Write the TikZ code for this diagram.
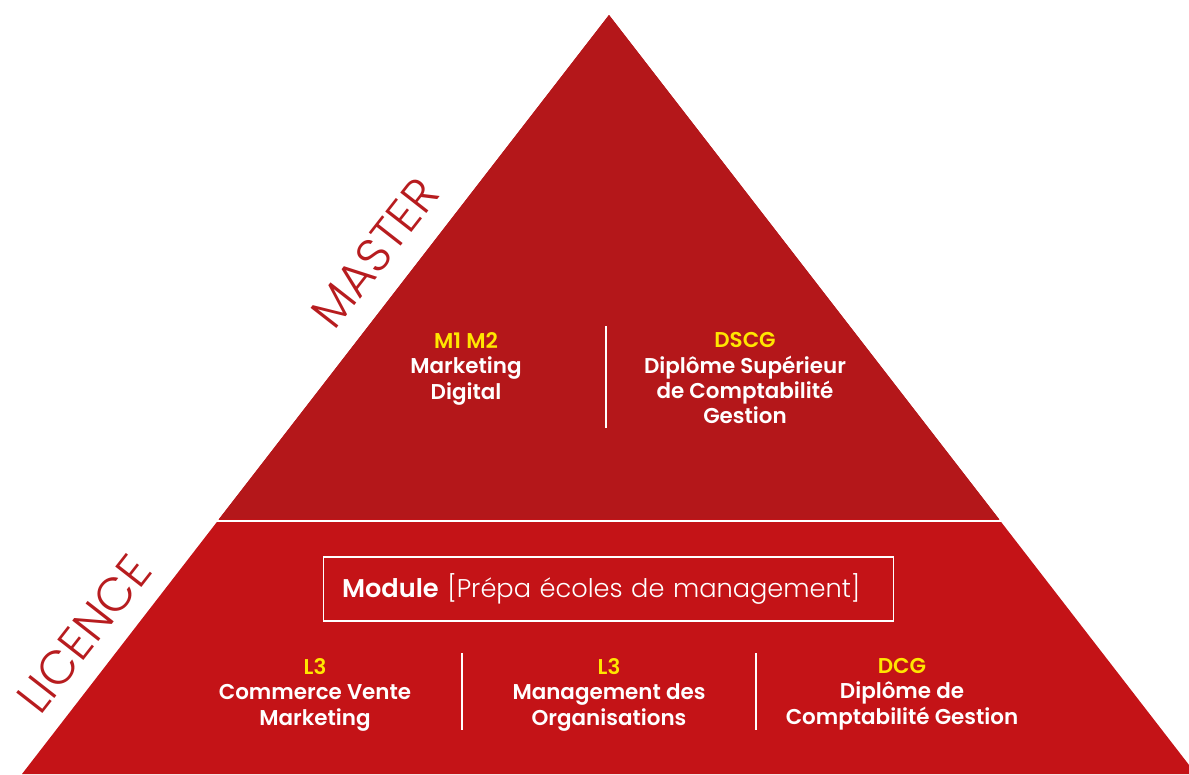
\documentclass[tikz,border=0pt]{standalone}
\usepackage{fontspec}
\setmainfont{Poppins}[BoldFont={Poppins SemiBold}]
\newfontfamily\lightfont{Poppins Light}
\usetikzlibrary{positioning}
\definecolor{masterred}{HTML}{B4171A}
\definecolor{licencered}{HTML}{C41317}
\definecolor{gradeyellow}{HTML}{FFE600}
\definecolor{labelred}{HTML}{B71C1F}
\newcommand{\grade}[1]{\textcolor{gradeyellow}{#1}}

\begin{document}
\begin{tikzpicture}[x=0.02cm, y=-0.02cm,
  every node/.style = {align=center, inner sep=0pt, text=white,
    font=\bfseries\fontsize{12.2}{14.5}\selectfont},
  level/.style = {text=labelred, rotate=52,
    font=\lightfont\fontsize{27}{27}\selectfont},
  course/.style = {anchor=north},
  divider/.style = {draw=white, line width=1.1pt}]
  \clip (0,0) rectangle (1189,774);
  % pyramid
  \fill[licencered] (609,15) -- (1196,774) -- (22,774) -- cycle;
  \fill[masterred] (609,15) -- (999,519) -- (219,519) -- cycle;
  \draw[white, line width=1.4pt] (200,521) -- (1020,521);
  % side labels
  \node[level] (master) at (375,253) {MASTER};
  \node[level] (licence) at (84,634) {LICENCE};
  % master courses
  \node[course] (mkt) at (466,332) {\grade{M1 M2}\\Marketing\\Digital};
  \node[course] (dscg) at (745,332) {\grade{DSCG}\\Diplôme Supérieur\\de Comptabilité\\Gestion};
  \coordinate (sep1a) at (606,326);
  \coordinate (sep1b) at (606,428);
  \draw[divider] (sep1a) -- (sep1b);
  % module
  \node[draw=white, line width=0.6pt, inner xsep=0.38cm, text width=10.66cm,
    minimum height=1.28cm, align=left,
    font=\fontsize{14.6}{14.6}\selectfont] (module) at (608.5,589)
    {\textbf{Module} {\lightfont[Prépa écoles de management]}};
  % licence courses
  \node[course] (cvm) at (315,658) {\grade{L3}\\Commerce Vente\\Marketing};
  \node[course] (mdo) at (609,658) {\grade{L3}\\Management des\\Organisations};
  \node[course] (dcg) at (902,658) {\grade{DCG}\\Diplôme de\\Comptabilité Gestion};
  \coordinate (sep2a) at (462,653);
  \coordinate (sep2b) at (462,730);
  \coordinate (sep3a) at (756,653);
  \coordinate (sep3b) at (756,730);
  \draw[divider] (sep2a) -- (sep2b);
  \draw[divider] (sep3a) -- (sep3b);
\end{tikzpicture}
\end{document}
